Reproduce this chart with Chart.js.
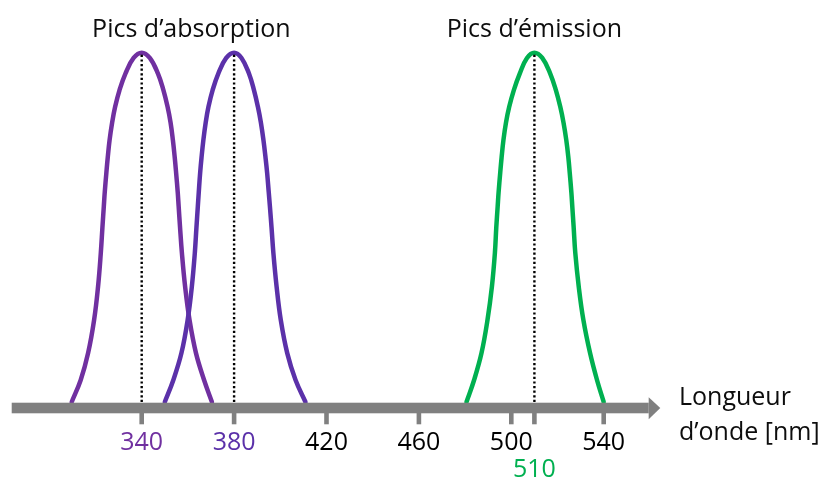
<!DOCTYPE html>
<html><head><meta charset="utf-8">
<script src="https://cdn.jsdelivr.net/npm/chart.js@4/dist/chart.umd.min.js"></script>
<style>html,body{margin:0;padding:0;background:#fff;}canvas{display:block;}</style>
</head><body>
<canvas id="c" width="824" height="477"></canvas>
<script>
// Wavelength (nm) and relative intensity
const abs340X = [309.7,313.6,316.8,319.4,321.1,322.3,323.0,323.6,324.0,324.7,325.3,326.1,327.2,328.5,330.4,333.0,336.5,340.0,343.5,347.0,349.4,351.2,352.5,353.5,354.3,354.9,355.6,356.0,356.6,357.4,358.8,360.7,363.5,367.0,370.4];
const abs340Y = [0,0.063,0.14,0.235,0.33,0.427,0.5,0.56,0.6,0.656,0.70,0.75,0.80,0.845,0.893,0.941,0.985,1,0.985,0.941,0.893,0.845,0.80,0.75,0.70,0.656,0.6,0.56,0.5,0.427,0.33,0.235,0.14,0.063,0];
const abs380X = [350.0,353.7,357.2,359.9,361.7,363.0,363.7,364.3,364.7,365.3,365.9,366.7,367.7,368.9,370.7,373.2,376.6,380.0,383.2,386.4,388.6,390.3,391.6,392.7,393.6,394.3,395.0,395.5,396.2,397.0,398.4,400.2,403.0,406.6,410.9];
const abs380Y = [0,0.063,0.14,0.235,0.33,0.427,0.5,0.56,0.6,0.656,0.70,0.75,0.80,0.845,0.893,0.941,0.985,1,0.985,0.941,0.893,0.845,0.80,0.75,0.70,0.656,0.6,0.56,0.5,0.427,0.33,0.235,0.14,0.063,0];
const em510X = [480.6,483.9,487.1,489.7,491.6,492.9,493.5,494.1,494.5,495.2,495.8,496.6,497.7,499.1,501.1,503.7,506.8,510.0,513.4,516.8,519.3,521.2,522.6,523.8,524.7,525.3,526.0,526.4,527.0,527.7,529.2,531.2,534.1,537.1,540.0];
const em510Y = [0,0.063,0.14,0.235,0.33,0.427,0.5,0.56,0.6,0.656,0.70,0.75,0.80,0.845,0.893,0.941,0.985,1,0.985,0.941,0.893,0.845,0.80,0.75,0.70,0.656,0.6,0.56,0.5,0.427,0.33,0.235,0.14,0.063,0];
const peakWavelengths = [340, 380, 510];
const tickValues = [340, 380, 420, 460, 500, 510, 540];
const tickLabels = ['340', '380', '420', '460', '500', '510', '540'];
const groupTitles = ['Pics d’absorption', 'Pics d’émission'];
const axisTitleLines = ['Longueur', 'd’onde [nm]'];

const PURPLE1 = '#7030A0', PURPLE2 = '#5B31A9', GREEN = '#00B050', GREY = '#808080';
const tickColors = [PURPLE1, PURPLE2, '#000', '#000', '#000', GREEN, '#000'];
const tickLower = [false, false, false, false, false, true, false];
const FONT = '25px "Open Sans", sans-serif';

function pts(xs, ys) { return xs.map((x, i) => ({x: x, y: ys[i]})); }

const dotted = peakWavelengths.map(w => ({
  data: [{x: w, y: 0}, {x: w, y: 1}],
  borderColor: '#000', borderWidth: 2.4, borderDash: [2.2, 2.4], pointRadius: 0, clip: false, tension: 0
}));
const curve = (xs, ys, col) => ({
  data: pts(xs, ys), borderColor: col, borderWidth: 4.5, pointRadius: 0, fill: false,
  tension: 0.4, clip: false, borderCapStyle: 'round', borderJoinStyle: 'round'
});

const decor = {
  id: 'decor',
  afterDatasetsDraw(chart) {
    const ctx = chart.ctx, xs = chart.scales.x;
    ctx.save();
    const x0 = 11.7, yTop = 402.7, h = 10.6, base = 648.7, tip = 660.3;
    ctx.fillStyle = GREY;
    ctx.fillRect(x0, yTop, base - x0, h);
    ctx.beginPath();
    ctx.moveTo(base, 397.3); ctx.lineTo(tip, yTop + h / 2); ctx.lineTo(base, 419.3); ctx.closePath();
    ctx.fill();
    ctx.font = FONT; ctx.textAlign = 'center'; ctx.textBaseline = 'alphabetic';
    tickValues.forEach((v, i) => {
      const px = xs.getPixelForValue(v);
      ctx.fillStyle = GREY;
      ctx.fillRect(px - 2.3, yTop + h - 0.5, 4.6, 11.5);
      ctx.fillStyle = tickColors[i];
      ctx.fillText(tickLabels[i], px, tickLower[i] ? 476.5 : 450);
    });
    ctx.fillStyle = '#0d0d0d';
    ctx.fillText(groupTitles[0], xs.getPixelForValue(361.5), 37);
    ctx.fillText(groupTitles[1], xs.getPixelForValue(510), 37);
    ctx.textAlign = 'left';
    ctx.fillText(axisTitleLines[0], 679, 405);
    ctx.fillText(axisTitleLines[1], 679, 440);
    ctx.restore();
  }
};

new Chart(document.getElementById('c'), {
  type: 'line',
  data: { datasets: [...dotted, curve(em510X, em510Y, GREEN), curve(abs380X, abs380Y, PURPLE2), curve(abs340X, abs340Y, PURPLE1)] },
  options: {
    responsive: false, animation: false, devicePixelRatio: 1,
    elements: { line: { capBezierPoints: false } },
    layout: { padding: { left: 3.1, right: 35.5, top: 52.7, bottom: 75 } },
    scales: {
      x: { type: 'linear', min: 280, max: 620, display: false },
      y: { type: 'linear', min: 0, max: 1, display: false }
    },
    plugins: { legend: { display: false }, tooltip: { enabled: false } }
  },
  plugins: [decor]
});
</script>
</body></html>
